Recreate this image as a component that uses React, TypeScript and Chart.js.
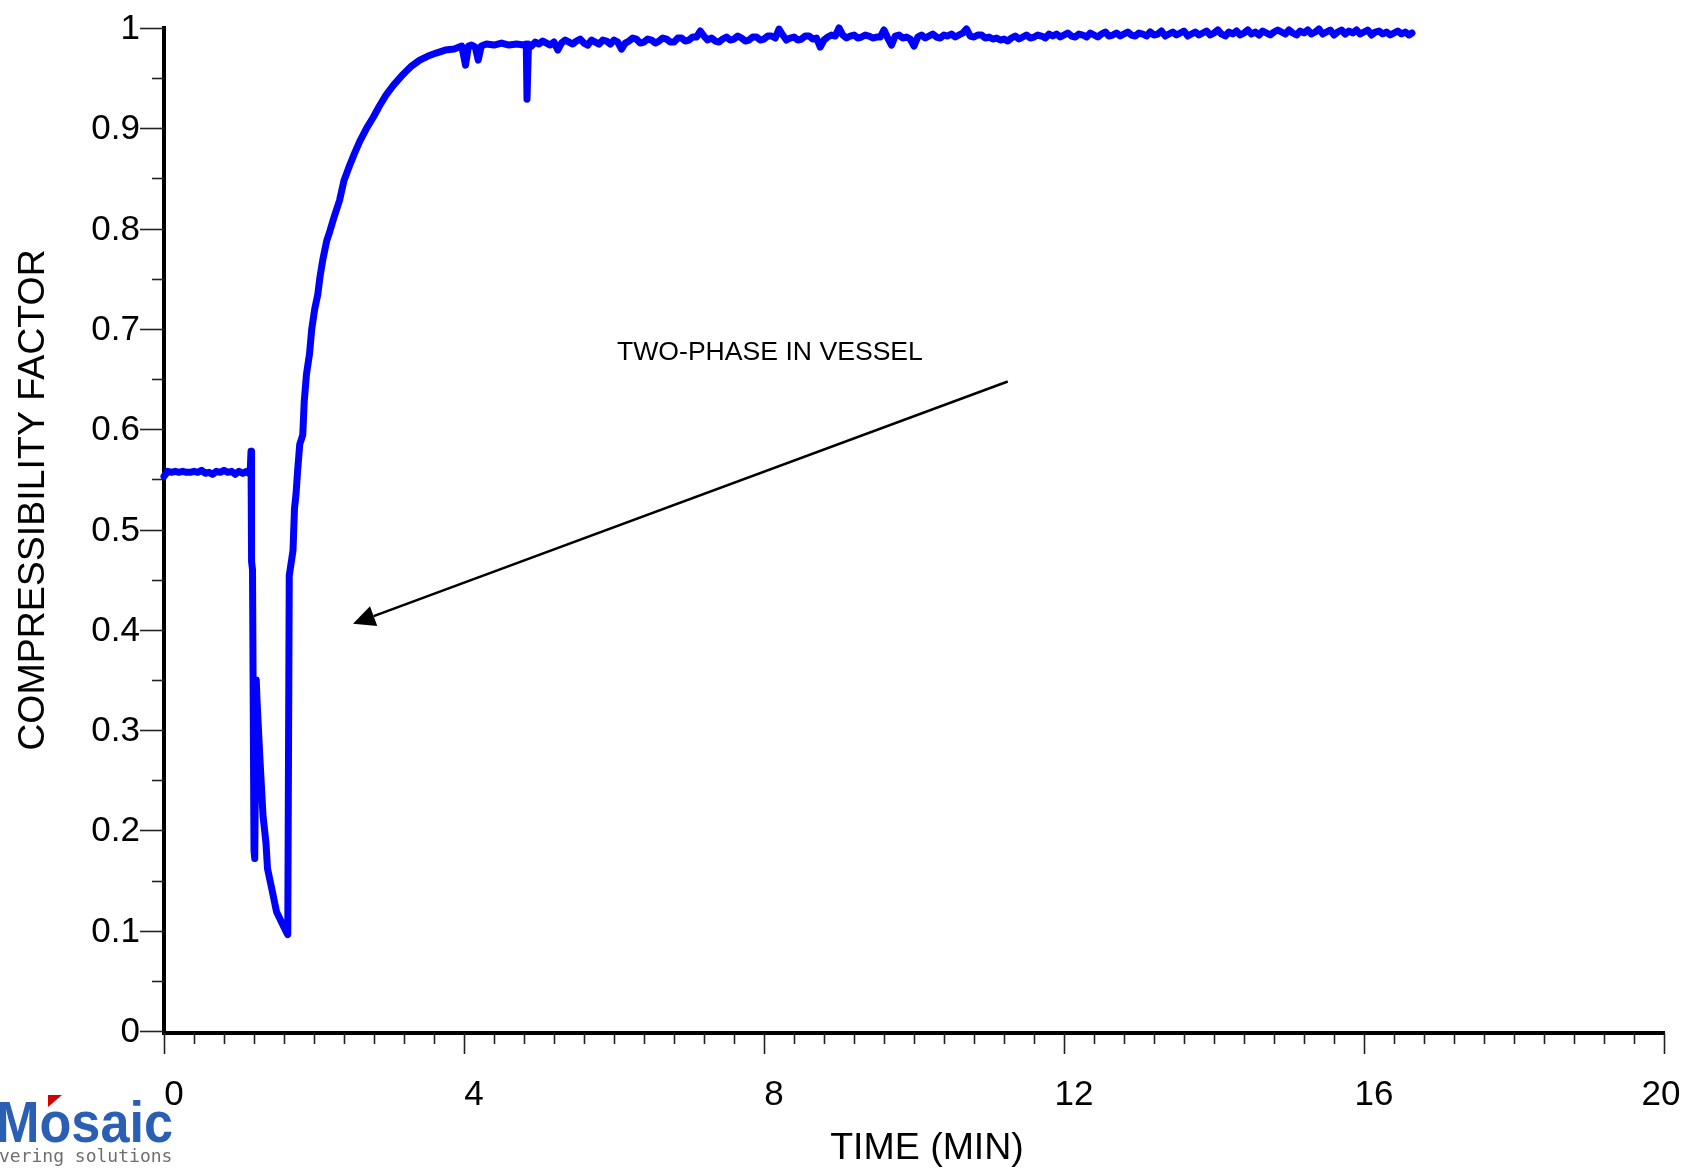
import React, { useEffect, useRef } from "react";
import { Chart, registerables } from "chart.js";

Chart.register(...registerables);

// ---- data ----
const timeMin: number[] = [
  0.0, 0.05, 0.1, 0.15, 0.2, 0.25, 0.3, 0.35, 0.4, 0.45, 0.5, 0.55, 0.6, 0.65, 0.7, 0.75, 0.8, 0.85, 0.9, 0.95,
  1.0, 1.05, 1.1, 1.13, 1.15, 1.16, 1.165, 1.17, 1.18, 1.2, 1.21, 1.23, 1.24, 1.28, 1.32, 1.36, 1.38, 1.45,
  1.5, 1.59, 1.65, 1.67, 1.72, 1.74, 1.76, 1.78, 1.81, 1.85, 1.87, 1.9, 1.94, 1.97, 2.01, 2.05, 2.08, 2.12,
  2.17, 2.21, 2.27, 2.34, 2.4, 2.47, 2.54, 2.61, 2.7, 2.79, 2.87, 2.96, 3.06, 3.19, 3.3, 3.41, 3.52, 3.63,
  3.75, 3.87, 3.97, 4.02, 4.06, 4.1, 4.15, 4.19, 4.23, 4.3, 4.4, 4.5, 4.6, 4.7, 4.8, 4.83, 4.84, 4.86,
  4.90, 4.95, 5.00, 5.05, 5.10, 5.15, 5.20, 5.25, 5.30, 5.35, 5.40, 5.45, 5.50, 5.55, 5.60, 5.65, 5.70, 5.75, 5.80, 5.85,
  5.90, 5.95, 6.00, 6.05, 6.10, 6.15, 6.20, 6.25, 6.30, 6.35, 6.40, 6.45, 6.50, 6.55, 6.60, 6.65, 6.70, 6.75, 6.80, 6.85,
  6.90, 6.95, 7.00, 7.05, 7.10, 7.15, 7.20, 7.25, 7.30, 7.35, 7.40, 7.45, 7.50, 7.55, 7.60, 7.65, 7.70, 7.75, 7.80, 7.85,
  7.90, 7.95, 8.00, 8.05, 8.10, 8.15, 8.20, 8.25, 8.30, 8.35, 8.40, 8.45, 8.50, 8.55, 8.60, 8.65, 8.70, 8.75, 8.80, 8.85,
  8.90, 8.95, 9.00, 9.05, 9.10, 9.15, 9.20, 9.25, 9.30, 9.35, 9.40, 9.45, 9.50, 9.55, 9.60, 9.65, 9.70, 9.75, 9.80, 9.85,
  9.90, 9.95, 10.00, 10.05, 10.10, 10.15, 10.20, 10.25, 10.30, 10.35, 10.40, 10.45, 10.50, 10.55, 10.60, 10.65, 10.70, 10.75, 10.80, 10.85,
  10.90, 10.95, 11.00, 11.05, 11.10, 11.15, 11.20, 11.25, 11.30, 11.35, 11.40, 11.45, 11.50, 11.55, 11.60, 11.65, 11.70, 11.75, 11.80, 11.85,
  11.90, 11.95, 12.00, 12.05, 12.10, 12.15, 12.20, 12.25, 12.30, 12.35, 12.40, 12.45, 12.50, 12.55, 12.60, 12.65, 12.70, 12.75, 12.80, 12.85,
  12.90, 12.95, 13.00, 13.05, 13.10, 13.15, 13.20, 13.25, 13.30, 13.35, 13.40, 13.45, 13.50, 13.55, 13.60, 13.65, 13.70, 13.75, 13.80, 13.85,
  13.90, 13.95, 14.00, 14.05, 14.10, 14.15, 14.20, 14.25, 14.30, 14.35, 14.40, 14.45, 14.50, 14.55, 14.60, 14.65, 14.70, 14.75, 14.80, 14.85,
  14.90, 14.95, 15.00, 15.05, 15.10, 15.15, 15.20, 15.25, 15.30, 15.35, 15.40, 15.45, 15.50, 15.55, 15.60, 15.65, 15.70, 15.75, 15.80, 15.85,
  15.90, 15.95, 16.00, 16.05, 16.10, 16.15, 16.20, 16.25, 16.30, 16.35, 16.40, 16.45, 16.50, 16.55, 16.60, 16.64,
];

const compressibility: number[] = [
  0.553, 0.558, 0.557, 0.558, 0.557, 0.558, 0.557, 0.557, 0.558, 0.557, 0.559, 0.556, 0.557, 0.555, 0.558, 0.557, 0.559, 0.557, 0.558, 0.555,
  0.558, 0.556, 0.558, 0.556, 0.559, 0.578, 0.52, 0.468, 0.46, 0.18, 0.172, 0.35, 0.33, 0.27, 0.215, 0.187, 0.162, 0.137,
  0.119, 0.105, 0.096, 0.454, 0.479, 0.521, 0.535, 0.557, 0.585, 0.594, 0.628, 0.655, 0.675, 0.7, 0.72, 0.734, 0.752, 0.77,
  0.788, 0.797, 0.812, 0.828, 0.848, 0.862, 0.875, 0.887, 0.9, 0.911, 0.922, 0.933, 0.943, 0.954, 0.962, 0.968, 0.972, 0.975,
  0.978, 0.979, 0.982, 0.963, 0.982, 0.983, 0.981, 0.968, 0.982, 0.984, 0.983, 0.985, 0.983, 0.984, 0.983, 0.984, 0.929, 0.984,
  0.982, 0.986, 0.984, 0.987, 0.985, 0.983, 0.986, 0.978, 0.985, 0.988, 0.986, 0.984, 0.987, 0.989, 0.985, 0.983, 0.988, 0.986, 0.984, 0.988,
  0.987, 0.984, 0.988, 0.986, 0.979, 0.985, 0.987, 0.990, 0.989, 0.985, 0.986, 0.989, 0.988, 0.985, 0.987, 0.990, 0.989, 0.986, 0.986, 0.990,
  0.990, 0.987, 0.988, 0.991, 0.991, 0.997, 0.992, 0.988, 0.990, 0.987, 0.986, 0.989, 0.991, 0.988, 0.989, 0.992, 0.990, 0.987, 0.988, 0.991,
  0.991, 0.988, 0.989, 0.992, 0.992, 0.990, 0.999, 0.993, 0.988, 0.990, 0.991, 0.988, 0.989, 0.992, 0.992, 0.989, 0.990, 0.981, 0.988, 0.991,
  0.993, 0.992, 1.000, 0.993, 0.990, 0.992, 0.993, 0.990, 0.991, 0.993, 0.992, 0.990, 0.991, 0.991, 0.998, 0.990, 0.983, 0.992, 0.993, 0.990,
  0.991, 0.989, 0.982, 0.991, 0.993, 0.990, 0.992, 0.994, 0.991, 0.990, 0.993, 0.992, 0.994, 0.991, 0.993, 0.995, 0.999, 0.992, 0.991, 0.993,
  0.993, 0.990, 0.991, 0.989, 0.990, 0.988, 0.989, 0.987, 0.990, 0.992, 0.989, 0.991, 0.993, 0.990, 0.991, 0.993, 0.992, 0.990, 0.994, 0.992,
  0.994, 0.991, 0.993, 0.995, 0.992, 0.991, 0.994, 0.993, 0.991, 0.995, 0.993, 0.991, 0.994, 0.996, 0.992, 0.993, 0.995, 0.992, 0.994, 0.996,
  0.993, 0.992, 0.995, 0.994, 0.992, 0.996, 0.993, 0.994, 0.997, 0.992, 0.994, 0.996, 0.993, 0.995, 0.997, 0.992, 0.994, 0.996, 0.993, 0.995,
  0.997, 0.993, 0.995, 0.998, 0.994, 0.992, 0.996, 0.994, 0.997, 0.993, 0.995, 0.998, 0.994, 0.996, 0.993, 0.997, 0.995, 0.993, 0.996, 0.998,
  0.996, 0.994, 0.998, 0.995, 0.993, 0.997, 0.995, 0.998, 0.994, 0.996, 0.999, 0.994, 0.996, 0.998, 0.993, 0.996, 0.998, 0.994, 0.997, 0.995,
  0.998, 0.994, 0.996, 0.998, 0.993, 0.996, 0.997, 0.994, 0.996, 0.993, 0.995, 0.997, 0.994, 0.996, 0.993, 0.995,
];

const xMajorTicks: number[] = [0, 4, 8, 12, 16, 20];
const xMinorStep = 0.4;
const yMajorTicks: number[] = [0, 0.1, 0.2, 0.3, 0.4, 0.5, 0.6, 0.7, 0.8, 0.9, 1];
const yMinorStep = 0.05;

const xTitle = "TIME (MIN)";
const yTitle = "COMPRESSIBILITY FACTOR";
const noteText = "TWO-PHASE IN VESSEL";
// annotation anchor points in data units
const noteTextAt = { x: 6.04, y: 0.669 };
const arrowFrom = { x: 11.25, y: 0.6476 };
const arrowTo = { x: 2.52, y: 0.406 };

const W = 1686;
const H = 1169;
const FONT = '"Liberation Sans", Arial, sans-serif';

const decoPlugin = {
  id: "deco",
  beforeDatasetsDraw(chart: any) {
    const ctx = chart.ctx as CanvasRenderingContext2D;
    const xs = chart.scales.x;
    const ys = chart.scales.y;
    const a = chart.chartArea;
    ctx.save();
    ctx.strokeStyle = "#000";
    ctx.lineWidth = 4;
    ctx.lineCap = "butt";
    ctx.beginPath();
    ctx.moveTo(a.left, a.top - 2);
    ctx.lineTo(a.left, a.bottom + 2);
    ctx.lineTo(a.right + 1, a.bottom + 2);
    ctx.stroke();

    ctx.lineWidth = 1.6;
    ctx.strokeStyle = "#222";
    const nY = Math.round(1 / yMinorStep);
    for (let i = 0; i <= nY; i++) {
      const v = i * yMinorStep;
      const py = Math.round(ys.getPixelForValue(v)) + 0.5;
      const major = i % 2 === 0;
      ctx.beginPath();
      ctx.moveTo(a.left - (major ? 24 : 12), py);
      ctx.lineTo(a.left, py);
      ctx.stroke();
    }
    const nX = Math.round(20 / xMinorStep);
    for (let i = 0; i <= nX; i++) {
      const v = i * xMinorStep;
      const px = Math.round(xs.getPixelForValue(v)) + 0.5;
      const major = i % 10 === 0;
      ctx.beginPath();
      ctx.moveTo(px, a.bottom + 2);
      ctx.lineTo(px, a.bottom + (major ? 23 : 13));
      ctx.stroke();
    }
    ctx.restore();
  },
  afterDraw(chart: any) {
    const ctx = chart.ctx as CanvasRenderingContext2D;
    const xs = chart.scales.x;
    const ys = chart.scales.y;
    const a = chart.chartArea;
    ctx.save();
    ctx.fillStyle = "#000";
    ctx.font = `35px ${FONT}`;
    ctx.textAlign = "right";
    ctx.textBaseline = "alphabetic";
    for (const v of yMajorTicks) {
      const py = ys.getPixelForValue(v);
      ctx.fillText(String(v), a.left - 24, py + 11);
    }
    ctx.textAlign = "center";
    for (const v of xMajorTicks) {
      const px = xs.getPixelForValue(v);
      const off = v === 20 ? -3 : 10;
      ctx.fillText(String(v), px + off, 1105);
    }
    ctx.font = `37.5px ${FONT}`;
    ctx.fillText(xTitle, 927, 1159);
    ctx.save();
    ctx.translate(44, 500);
    ctx.rotate(-Math.PI / 2);
    ctx.textAlign = "center";
    ctx.fillText(yTitle, 0, 0);
    ctx.restore();

    ctx.font = `26.6px ${FONT}`;
    ctx.textAlign = "left";
    ctx.fillText(noteText, xs.getPixelForValue(noteTextAt.x), ys.getPixelForValue(noteTextAt.y));
    const x1 = xs.getPixelForValue(arrowFrom.x);
    const y1 = ys.getPixelForValue(arrowFrom.y);
    const x2 = xs.getPixelForValue(arrowTo.x);
    const y2 = ys.getPixelForValue(arrowTo.y);
    const ang = Math.atan2(y2 - y1, x2 - x1);
    const headLen = 22;
    const headHalf = 10.5;
    const bx = x2 - headLen * Math.cos(ang);
    const by = y2 - headLen * Math.sin(ang);
    ctx.strokeStyle = "#000";
    ctx.lineWidth = 2.5;
    ctx.beginPath();
    ctx.moveTo(x1, y1);
    ctx.lineTo(bx, by);
    ctx.stroke();
    ctx.beginPath();
    ctx.moveTo(x2, y2);
    ctx.lineTo(bx + headHalf * Math.sin(ang), by - headHalf * Math.cos(ang));
    ctx.lineTo(bx - headHalf * Math.sin(ang), by + headHalf * Math.cos(ang));
    ctx.closePath();
    ctx.fill();

    // logo
    ctx.save();
    ctx.translate(-4, 1142);
    ctx.scale(0.9, 1);
    ctx.fillStyle = "#2b5fb4";
    ctx.font = `bold 58px ${FONT}`;
    ctx.textAlign = "left";
    ctx.fillText("Mosaic", 0, 0);
    ctx.restore();
    ctx.fillStyle = "#d40000";
    ctx.beginPath();
    ctx.moveTo(48, 1095);
    ctx.lineTo(62, 1095);
    ctx.lineTo(48, 1107);
    ctx.closePath();
    ctx.fill();
    ctx.fillStyle = "#6e6e6e";
    ctx.font = `18px "DejaVu Sans Mono", monospace`;
    ctx.fillText("vering solutions", -1, 1162);
    ctx.restore();
  },
};

export default function App() {
  const ref = useRef<HTMLCanvasElement | null>(null);
  useEffect(() => {
    if (!ref.current) return;
    const points = timeMin.map((t, i) => ({ x: t, y: compressibility[i] }));
    const chart = new Chart(ref.current, {
      type: "line",
      data: {
        datasets: [
          {
            data: points,
            borderColor: "#0000ff",
            borderWidth: 7,
            pointRadius: 0,
            tension: 0,
            borderJoinStyle: "round",
            borderCapStyle: "round",
            clip: false,
          } as any,
        ],
      },
      options: {
        responsive: false,
        animation: false,
        devicePixelRatio: 1,
        layout: { padding: { left: 164, right: 22, top: 28, bottom: 138 } },
        plugins: { legend: { display: false }, tooltip: { enabled: false } },
        scales: {
          x: { type: "linear", min: 0, max: 20, display: false },
          y: { type: "linear", min: 0, max: 1, display: false },
        },
      },
      plugins: [decoPlugin],
    });
    return () => chart.destroy();
  }, []);
  return (
    <div style={{ position: "absolute", left: 0, top: 0, width: W, height: H, background: "#fff" }}>
      <canvas ref={ref} width={W} height={H} style={{ display: "block", width: W, height: H }} />
    </div>
  );
}
